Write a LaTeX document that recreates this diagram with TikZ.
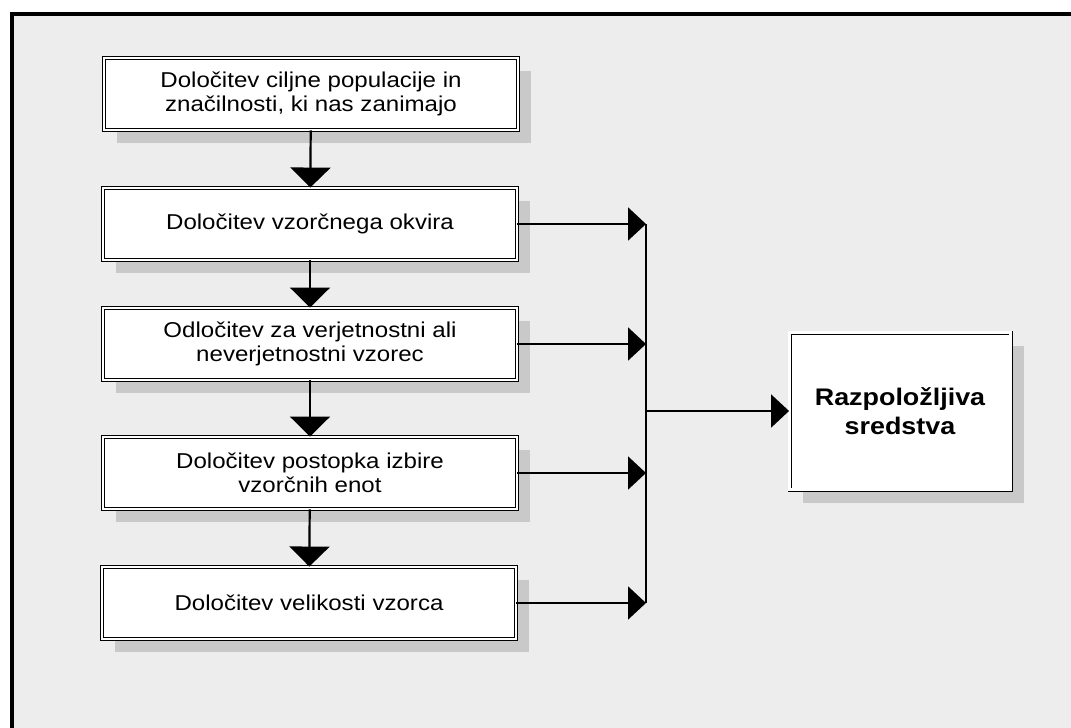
\documentclass[tikz,border=0pt]{standalone}
\usepackage{fontspec}
\setmainfont{Liberation Sans}[FakeStretch=1.12]
\usetikzlibrary{arrows.meta,shadows}
\begin{document}
\begin{tikzpicture}[x=1pt,y=-1pt,
  stepbox/.style={draw, double, double distance=2.2pt, line width=0.9pt, fill=white,
    minimum width=414pt, minimum height=72pt, align=center, inner sep=2pt,
    font=\fontsize{21.5}{24.5}\selectfont,
    drop shadow={shadow xshift=13pt, shadow yshift=-13pt, fill=gray!42, opacity=1}},
  goalbox/.style={stepbox, minimum width=221pt, minimum height=157pt,
    font=\fontsize{24}{29}\selectfont\bfseries},
  downarrow/.style={line width=2.2pt, -{Triangle[width=40pt,length=20pt]}},
  rightarrow/.style={line width=2pt, -{Triangle[width=33pt,length=18pt]}},
  busline/.style={line width=1.6pt}]
\useasboundingbox (0,0) rectangle (1071,728);
\fill[gray!14] (12,14) rectangle (1071,728);
\draw[line width=4pt] (12,728) -- (12,14) -- (1071,14);

\node[stepbox] (s1) at (311,94) {Določitev ciljne populacije in\\značilnosti, ki nas zanimajo};
\node[stepbox] (s2) at (310,224) {Določitev vzorčnega okvira};
\node[stepbox] (s3) at (310,344) {Odločitev za verjetnostni ali\\neverjetnostni vzorec};
\node[stepbox] (s4) at (310,473) {Določitev postopka izbire\\vzorčnih enot};
\node[stepbox] (s5) at (309,603) {Določitev velikosti vzorca};
\node[goalbox] (r) at (900,411) {Razpoložljiva\\sredstva};

\coordinate (bus) at (646,411);

\draw[downarrow] (s1) -- (s2);
\draw[downarrow] (s2) -- (s3);
\draw[downarrow] (s3) -- (s4);
\draw[downarrow] (s4) -- (s5);

\draw[busline] (s2.east -| bus) -- (s5.east -| bus);
\draw[rightarrow] (s2.east) -- (s2.east -| bus);
\draw[rightarrow] (s3.east) -- (s3.east -| bus);
\draw[rightarrow] (s4.east) -- (s4.east -| bus);
\draw[rightarrow] (s5.east) -- (s5.east -| bus);
\draw[rightarrow] (bus) -- (r.west);
\end{tikzpicture}
\end{document}
